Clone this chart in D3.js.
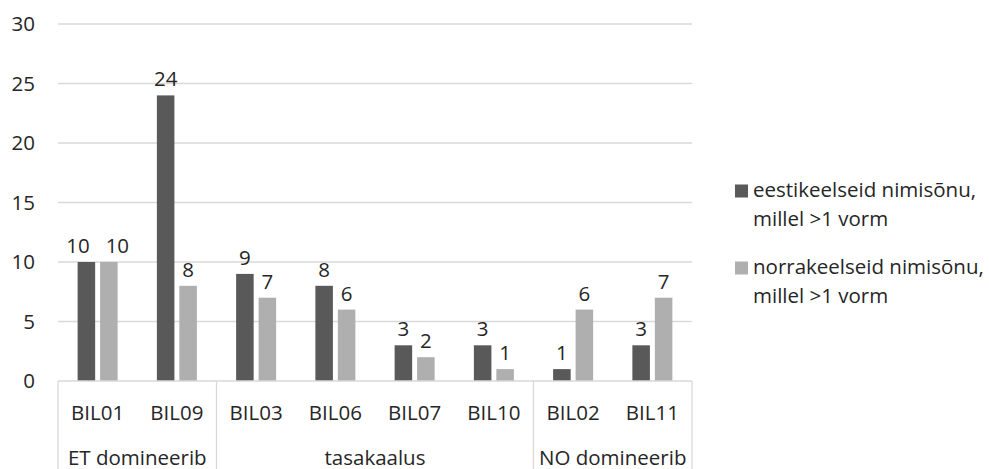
<!DOCTYPE html>
<html>
<head>
<meta charset="utf-8">
<script src="https://cdn.jsdelivr.net/npm/d3@7"></script>
<style>
  body { margin: 0; background: #fff; }
  svg text { font-family: "Open Sans", "Liberation Sans", sans-serif; fill: #262626; }
</style>
</head>
<body>
<svg id="chart" width="989" height="469"></svg>
<script>
// Noun counts per bilingual speaker, grouped by dominant language
const categories = ["BIL01", "BIL09", "BIL03", "BIL06", "BIL07", "BIL10", "BIL02", "BIL11"];
const estonianNouns = [10, 24, 9, 8, 3, 3, 1, 3];
const norwegianNouns = [10, 8, 7, 6, 2, 1, 6, 7];
const groups = [
  { name: "ET domineerib", from: 0, to: 2 },
  { name: "tasakaalus", from: 2, to: 6 },
  { name: "NO domineerib", from: 6, to: 8 }
];
const yTicks = [0, 5, 10, 15, 20, 25, 30];
const seriesNames = [
  ["eestikeelseid nimisõnu,", "millel >1 vorm"],
  ["norrakeelseid nimisõnu,", "millel >1 vorm"]
];
const colors = ["#595959", "#afafaf"];

const svg = d3.select("#chart");
const plotLeft = 58, plotRight = 692, plotTop = 24, plotBottom = 381;
const fontSize = 20.5;

const x = d3.scaleBand().domain(categories).range([plotLeft, plotRight]);
const y = d3.scaleLinear().domain([0, 30]).range([plotBottom, plotTop]);
const inner = d3.scaleBand().domain([0, 1])
  .range([x.bandwidth() / 2 - 20, x.bandwidth() / 2 + 20]).paddingInner(0.22);

// Horizontal gridlines
svg.append("g").selectAll("line").data(yTicks.filter(d => d > 0)).join("line")
  .attr("x1", plotLeft).attr("x2", plotRight)
  .attr("y1", d => y(d)).attr("y2", d => y(d))
  .attr("stroke", "#d9d9d9").attr("stroke-width", 1.3);

// Y axis labels
svg.append("g").selectAll("text").data(yTicks).join("text")
  .attr("x", 35).attr("y", d => y(d)).attr("dy", "0.36em")
  .attr("text-anchor", "end").attr("font-size", fontSize).text(d => d);

// Bars and value labels
const series = [estonianNouns, norwegianNouns];
const labelSel = [];
series.forEach((vals, s) => {
  const g = svg.append("g");
  g.selectAll("rect").data(vals).join("rect")
    .attr("x", (d, i) => x(categories[i]) + inner(s))
    .attr("width", inner.bandwidth())
    .attr("y", d => y(d))
    .attr("height", d => y(0) - y(d))
    .attr("fill", colors[s]);
  labelSel.push(g.selectAll("text").data(vals).join("text")
    .attr("x", (d, i) => x(categories[i]) + inner(s) + inner.bandwidth() / 2)
    .attr("y", d => y(d) - 9)
    .attr("text-anchor", "middle").attr("font-size", fontSize).text(d => d));
});

// Spread apart value labels of the same category when they would collide
categories.forEach((c, i) => {
  const a = d3.select(labelSel[0].nodes()[i]);
  const b = d3.select(labelSel[1].nodes()[i]);
  if (Math.abs(+a.attr("y") - +b.attr("y")) > fontSize) return;
  const wa = a.node().getComputedTextLength(), wb = b.node().getComputedTextLength();
  const xa = +a.attr("x"), xb = +b.attr("x");
  if (xb - xa < (wa + wb) / 2 + 4) {
    const mid = (xa + xb) / 2, half = ((wa + wb) / 2 + 16) / 2;
    a.attr("x", mid - half);
    b.attr("x", mid + half);
  }
});

// Category axis frame with group separators
const axisG = svg.append("g").attr("stroke", "#d9d9d9").attr("stroke-width", 1.3);
axisG.append("line").attr("x1", plotLeft).attr("x2", plotRight).attr("y1", plotBottom).attr("y2", plotBottom);
const seps = [0, ...groups.map(g => g.to)];
const sepX = i => i < categories.length ? x(categories[i]) : plotRight;
axisG.selectAll("line.sep").data(seps).join("line").attr("class", "sep")
  .attr("x1", sepX).attr("x2", sepX)
  .attr("y1", plotBottom).attr("y2", 469);

svg.append("g").selectAll("text").data(categories).join("text")
  .attr("x", d => x(d) + x.bandwidth() / 2).attr("y", 420)
  .attr("text-anchor", "middle").attr("font-size", fontSize).text(d => d);

svg.append("g").selectAll("text").data(groups).join("text")
  .attr("x", g => (sepX(g.from) + sepX(g.to)) / 2)
  .attr("y", 464.5)
  .attr("text-anchor", "middle").attr("font-size", fontSize).text(g => g.name);

// Legend
const legend = svg.append("g");
seriesNames.forEach((lines, s) => {
  const ly = 197 + s * 77;
  legend.append("rect").attr("x", 735).attr("y", ly - 12.5).attr("width", 13).attr("height", 13).attr("fill", colors[s]);
  lines.forEach((t, k) => {
    legend.append("text").attr("x", 753).attr("y", ly + k * 29)
      .attr("font-size", fontSize).text(t);
  });
});
</script>
</body>
</html>
